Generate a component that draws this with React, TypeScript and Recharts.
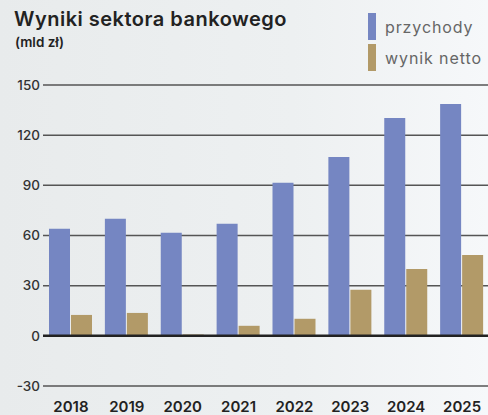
import { BarChart, Bar, XAxis, YAxis, CartesianGrid, ReferenceLine } from 'recharts';

const years = ['2018', '2019', '2020', '2021', '2022', '2023', '2024', '2025'];
const przychody = [64, 70, 61.6, 67, 91.5, 107, 130.3, 138.7];
const wynikNetto = [12.5, 13.7, 0.8, 6, 10.2, 27.5, 40, 48.4];
const yTicks = [-30, 0, 30, 60, 90, 120, 150];

const data = years.map((year, i) => ({
    year,
    przychody: przychody[i],
    wynik: wynikNetto[i],
}));

const BLUE = '#7586c2';
const TAN = '#b29a68';
const FONT = 'Inter, sans-serif';

const LegendItem = ({ color, label }: { color: string; label: string }) => (
    <div style={{ display: 'flex', alignItems: 'center', height: 27, marginBottom: 4, whiteSpace: 'nowrap' }}>
        <div style={{ width: 8, height: 27, background: color, marginRight: 9, flexShrink: 0 }} />
        <span style={{ fontSize: 16, color: '#666', letterSpacing: '0.9px', fontWeight: 400 }}>{label}</span>
    </div>
);

export default function App() {
    return (
        <div style={{
            position: 'fixed',
            top: 0,
            left: 0,
            width: 488,
            height: 415,
            overflow: 'hidden',
            background: 'linear-gradient(90deg, #e8ebec 0%, #edf0f1 60%, #f6f8fa 100%)',
            fontFamily: FONT,
        }}>
            <div style={{ position: 'absolute', left: 14, top: 7, fontSize: 20, fontWeight: 600, color: '#222', letterSpacing: '0.5px', whiteSpace: 'nowrap' }}>
                Wyniki sektora bankowego
            </div>
            <div style={{ position: 'absolute', left: 15, top: 34, fontSize: 13.5, fontWeight: 600, color: '#222', whiteSpace: 'nowrap' }}>
                (mld zł)
            </div>
            <div style={{ position: 'absolute', left: 368, top: 13, width: 118 }}>
                <LegendItem color={BLUE} label="przychody" />
                <LegendItem color={TAN} label="wynik netto" />
            </div>

            <div style={{ position: 'absolute', left: 0, top: 0 }}>
                <BarChart
                    width={490}
                    height={415}
                    data={data}
                    margin={{ top: 85, right: 0, left: 0, bottom: 0 }}
                    barSize={21}
                    barGap={1}
                >
                    <CartesianGrid vertical={false} stroke="#555" strokeWidth={1.5} />
                    <ReferenceLine y={0} stroke="#222" strokeWidth={2.5} />
                    <XAxis
                        dataKey="year"
                        axisLine={false}
                        tickLine={false}
                        tickSize={0}
                        tickMargin={15}
                        height={29}
                        tick={{ fill: '#222', fontSize: 15, fontWeight: 600, fontFamily: FONT }}
                    />
                    <YAxis
                        domain={[-30, 150]}
                        ticks={yTicks}
                        interval={0}
                        axisLine={false}
                        tickLine={false}
                        tickSize={0}
                        tickMargin={3}
                        width={43}
                        tick={{ fill: '#333', fontSize: 13.5, fontWeight: 500, fontFamily: FONT }}
                    />
                    <Bar dataKey="przychody" fill={BLUE} isAnimationActive={false} />
                    <Bar dataKey="wynik" fill={TAN} isAnimationActive={false} />
                </BarChart>
            </div>
        </div>
    );
}
